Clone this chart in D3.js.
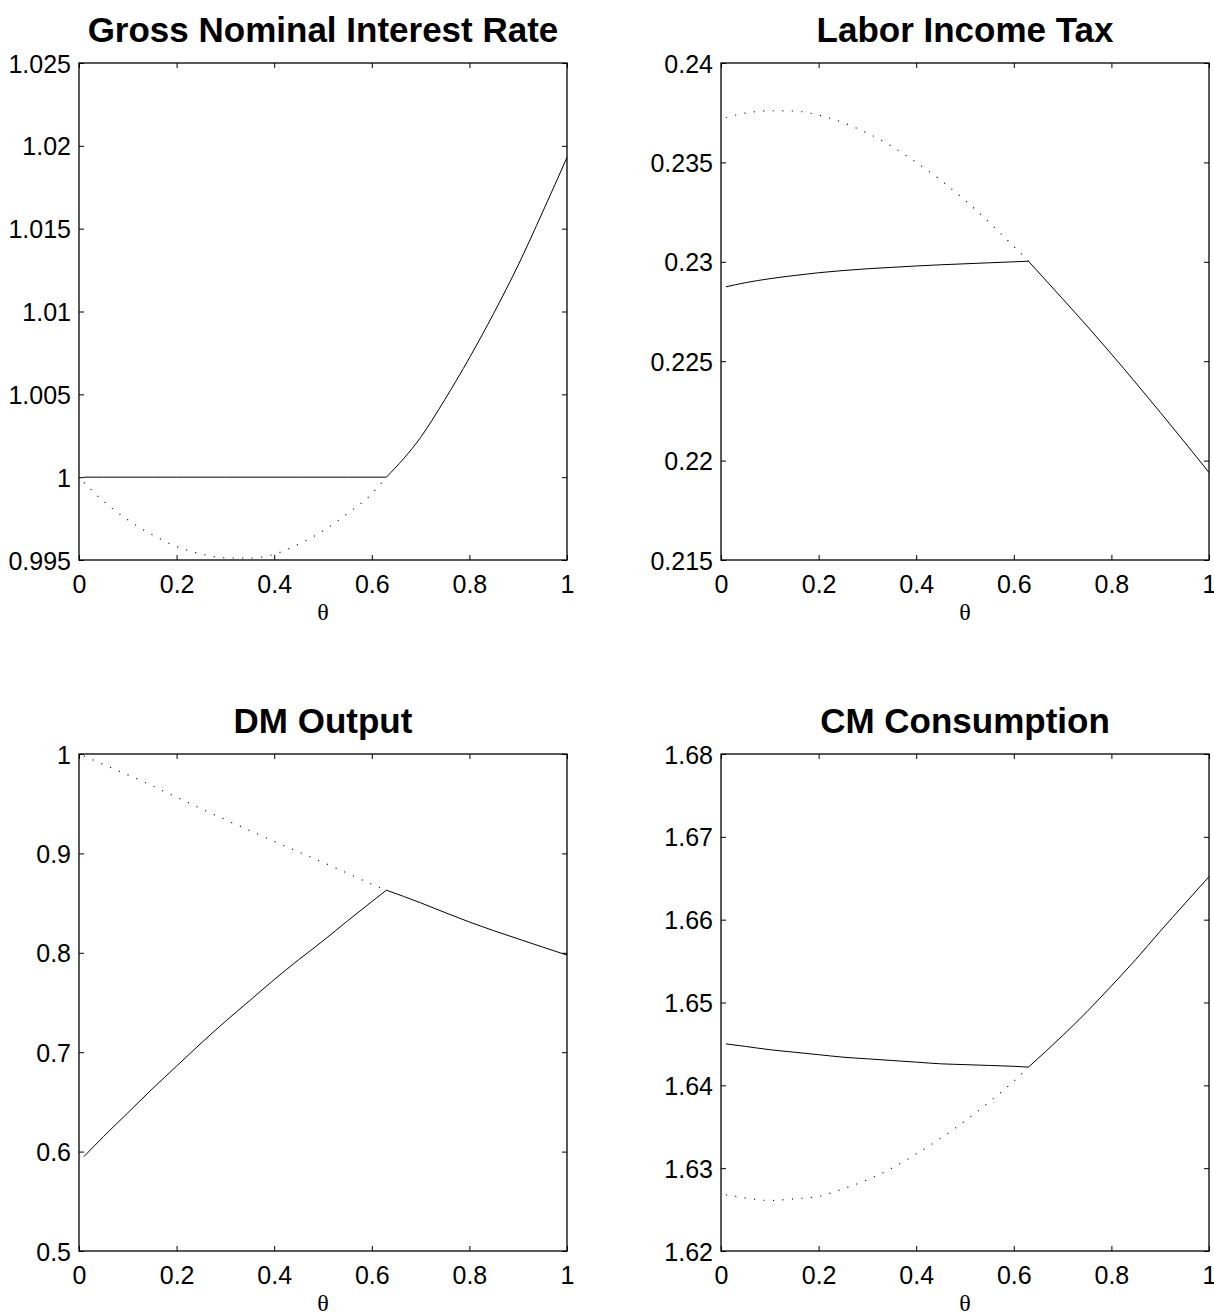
<!DOCTYPE html>
<html><head><meta charset="utf-8">
<script src="https://cdn.jsdelivr.net/npm/d3@7"></script>
<style>body{margin:0;background:#fff}</style>
</head><body>
<script>
// ---------- data ----------
const panelTitles = ["Gross Nominal Interest Rate", "Labor Income Tax", "DM Output", "CM Consumption"];
const xTicks = [0, 0.2, 0.4, 0.6, 0.8, 1];
const xTickLabels = ["0", "0.2", "0.4", "0.6", "0.8", "1"];
const xLabel = "θ";

const rateTicks = [0.995, 1, 1.005, 1.01, 1.015, 1.02, 1.025];
const rateTickLabels = ["0.995", "1", "1.005", "1.01", "1.015", "1.02", "1.025"];
const taxTicks = [0.215, 0.22, 0.225, 0.23, 0.235, 0.24];
const taxTickLabels = ["0.215", "0.22", "0.225", "0.23", "0.235", "0.24"];
const dmTicks = [0.5, 0.6, 0.7, 0.8, 0.9, 1];
const dmTickLabels = ["0.5", "0.6", "0.7", "0.8", "0.9", "1"];
const cmTicks = [1.62, 1.63, 1.64, 1.65, 1.66, 1.67, 1.68];
const cmTickLabels = ["1.62", "1.63", "1.64", "1.65", "1.66", "1.67", "1.68"];

// theta grid below the kink and above it
const thetaLow  = [0.01, 0.05, 0.1, 0.15, 0.2, 0.25, 0.3, 0.35, 0.4, 0.45, 0.5, 0.55, 0.6, 0.63];
const thetaHigh = [0.63, 0.7, 0.75, 0.8, 0.85, 0.9, 0.95, 1.0];

// Gross nominal interest rate
const rateSolidLow  = [1, 1, 1, 1, 1, 1, 1, 1, 1, 1, 1, 1, 1, 1];
const rateDotted    = [0.99968, 0.99855, 0.99743, 0.99652, 0.99582, 0.99536, 0.99513, 0.99512, 0.99535, 0.99596, 0.99676, 0.99780, 0.99900, 1.0];
const rateSolidHigh = [1.0, 1.0024, 1.0047, 1.0072, 1.0099, 1.0128, 1.0160, 1.0193];

// Labor income tax
const taxSolidLow  = [0.22874, 0.22895, 0.22915, 0.22931, 0.22945, 0.22956, 0.22965, 0.22972, 0.22979, 0.22985, 0.22990, 0.22995, 0.23000, 0.23003];
const taxDotted    = [0.23726, 0.23748, 0.23760, 0.23758, 0.23738, 0.23700, 0.23647, 0.23581, 0.23500, 0.23411, 0.23309, 0.23197, 0.23077, 0.23003];
const taxSolidHigh = [0.23003, 0.22814, 0.22677, 0.22536, 0.22391, 0.22243, 0.22093, 0.21940];

// DM output
const dmSolidLow  = [0.595, 0.615, 0.639, 0.663, 0.686, 0.709, 0.731, 0.752, 0.773, 0.793, 0.812, 0.832, 0.8515, 0.863];
const dmDotted    = [0.998, 0.9895, 0.979, 0.968, 0.9565, 0.945, 0.934, 0.923, 0.912, 0.9015, 0.891, 0.880, 0.869, 0.863];
const dmSolidHigh = [0.863, 0.8503, 0.8405, 0.8310, 0.8222, 0.8140, 0.8058, 0.7977];

// CM consumption
const cmSolidLow  = [1.6450, 1.6447, 1.6443, 1.6440, 1.6437, 1.6434, 1.6432, 1.6430, 1.6428, 1.6426, 1.6425, 1.6424, 1.6423, 1.6422];
const cmDotted    = [1.6268, 1.6264, 1.6261, 1.6263, 1.6266, 1.6275, 1.6286, 1.6300, 1.6317, 1.6336, 1.6357, 1.6380, 1.6405, 1.6422];
const cmSolidHigh = [1.6422, 1.6460, 1.6489, 1.6520, 1.6552, 1.6586, 1.6619, 1.6652];

// ---------- layout ----------
const W = 1214, H = 1315;
const boxes = [
  {x0: 79,  x1: 567,  y0: 63,  y1: 560},
  {x0: 721, x1: 1209, y0: 63,  y1: 560},
  {x0: 79,  x1: 567,  y0: 754, y1: 1251},
  {x0: 721, x1: 1209, y0: 754, y1: 1251}
];
const panels = [
  {ticks: rateTicks, labels: rateTickLabels, low: rateSolidLow, dot: rateDotted, high: rateSolidHigh},
  {ticks: taxTicks,  labels: taxTickLabels,  low: taxSolidLow,  dot: taxDotted,  high: taxSolidHigh},
  {ticks: dmTicks,   labels: dmTickLabels,   low: dmSolidLow,   dot: dmDotted,   high: dmSolidHigh},
  {ticks: cmTicks,   labels: cmTickLabels,   low: cmSolidLow,   dot: cmDotted,   high: cmSolidHigh}
];

const svg = d3.select("body").append("svg")
  .attr("width", W).attr("height", H)
  .style("display", "block").style("background", "#fff");

const sans = "'Liberation Sans', Arial, Helvetica, sans-serif";

panels.forEach((pd, i) => {
  const b = boxes[i];
  const x = d3.scaleLinear().domain([0, 1]).range([b.x0, b.x1]);
  const y = d3.scaleLinear().domain([pd.ticks[0], pd.ticks[pd.ticks.length - 1]]).range([b.y1, b.y0]);
  const g = svg.append("g");

  const line = d3.line().x(d => x(d[0])).y(d => y(d[1])).curve(d3.curveMonotoneX);

  // dotted series
  g.append("path")
    .datum(d3.zip(thetaLow, pd.dot))
    .attr("d", line)
    .attr("fill", "none").attr("stroke", "#000").attr("stroke-width", 1.1)
    .attr("stroke-dasharray", "1.1,8.4");

  // solid series
  [d3.zip(thetaLow, pd.low), d3.zip(thetaHigh, pd.high)].forEach(seg => {
    g.append("path")
      .datum(seg)
      .attr("d", line)
      .attr("fill", "none").attr("stroke", "#000").attr("stroke-width", 1);
  });

  const fmtX = (d, j) => xTickLabels[j];
  const fmtY = (d, j) => pd.labels[j];

  const bottom = g.append("g").attr("transform", `translate(0,${b.y1})`)
    .call(d3.axisBottom(x).tickValues(xTicks).tickFormat(fmtX).tickSize(-5).tickSizeOuter(0).tickPadding(15));
  const top = g.append("g").attr("transform", `translate(0,${b.y0})`)
    .call(d3.axisTop(x).tickValues(xTicks).tickFormat("").tickSize(-5).tickSizeOuter(0));
  const left = g.append("g").attr("transform", `translate(${b.x0},0)`)
    .call(d3.axisLeft(y).tickValues(pd.ticks).tickFormat(fmtY).tickSize(-5).tickSizeOuter(0).tickPadding(8));
  const right = g.append("g").attr("transform", `translate(${b.x1},0)`)
    .call(d3.axisRight(y).tickValues(pd.ticks).tickFormat("").tickSize(-5).tickSizeOuter(0));

  [bottom, top, left, right].forEach(a => {
    a.select(".domain").remove();
    a.selectAll("line").attr("stroke", "#000").attr("stroke-width", 1);
    a.selectAll("text").attr("font-family", sans).attr("font-size", 25).attr("fill", "#000");
  });
  left.selectAll("text").attr("dy", "0.36em");

  // frame
  g.append("rect")
    .attr("x", b.x0).attr("y", b.y0)
    .attr("width", b.x1 - b.x0).attr("height", b.y1 - b.y0)
    .attr("fill", "none").attr("stroke", "#000").attr("stroke-width", 1.3);

  // title
  g.append("text")
    .attr("x", (b.x0 + b.x1) / 2).attr("y", b.y0 - 21)
    .attr("text-anchor", "middle")
    .attr("font-family", sans).attr("font-weight", "bold").attr("font-size", 35)
    .text(panelTitles[i]);

  // x label
  g.append("text")
    .attr("x", (b.x0 + b.x1) / 2).attr("y", b.y1 + 60)
    .attr("text-anchor", "middle")
    .attr("font-family", "'Liberation Serif', 'Times New Roman', serif").attr("font-size", 24)
    .text(xLabel);
});
</script>
</body></html>
